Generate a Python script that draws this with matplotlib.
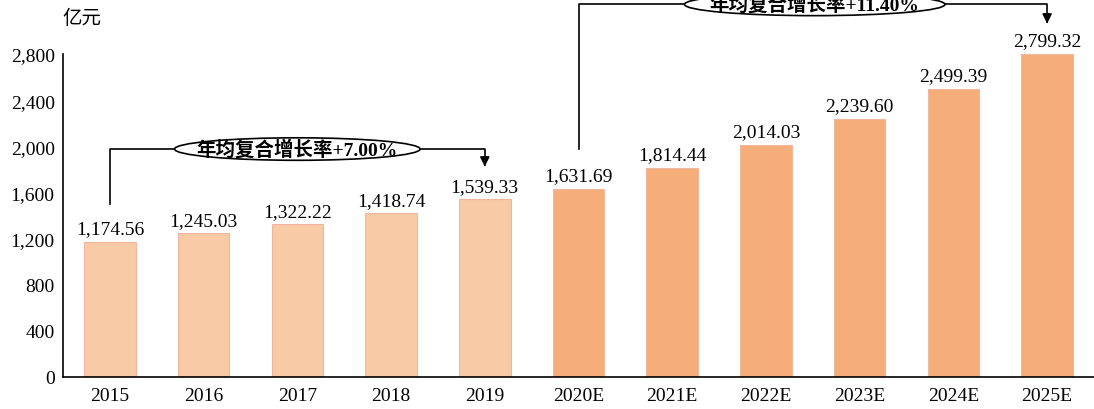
import matplotlib.pyplot as plt
from matplotlib.patches import Ellipse

years = ['2015', '2016', '2017', '2018', '2019', '2020E', '2021E', '2022E', '2023E', '2024E', '2025E']
values = [1174.56, 1245.03, 1322.22, 1418.74, 1539.33, 1631.69, 1814.44, 2014.03, 2239.60, 2499.39, 2799.32]
is_forecast = [y.endswith('E') for y in years]
yticks = [0, 400, 800, 1200, 1600, 2000, 2400, 2800]
cagr_labels = ['年均复合增长率+7.00%', '年均复合增长率+11.40%']

serif = ['Liberation Serif', 'Noto Sans CJK SC']
cjk = ['Noto Sans CJK SC', 'Liberation Serif']

fig = plt.figure(figsize=(10.94, 4.10), dpi=100)
ax = fig.add_axes([63 / 1094, 1 - 378 / 410, 1 - 63 / 1094, (378 - 55) / 410])

x = list(range(len(years)))
colors = ['#F9CAA6' if not f else '#F5AD79' for f in is_forecast]
ax.bar(x, values, width=0.55, color=colors, edgecolor='#EFB7A0', linewidth=0.8)

for xi, v in zip(x, values):
    ax.text(xi, v + 40, f'{v:,.2f}', ha='center', va='bottom', fontsize=14, family=serif)

ax.set_xlim(-0.5, len(years) - 0.5)
ax.set_ylim(0, 2800)
ax.set_yticks(yticks)
ax.set_yticklabels([f'{t:,}' for t in yticks], family=serif, fontsize=14)
ax.set_xticks(x)
ax.set_xticklabels(years, family=serif, fontsize=14)
ax.tick_params(axis='y', length=0, pad=6)
ax.tick_params(axis='x', length=0, pad=7)
for s in ['top', 'right']:
    ax.spines[s].set_visible(False)
for s in ['left', 'bottom']:
    ax.spines[s].set_linewidth(1.2)

fig.text(62 / 1094, 1 - 18 / 410, '亿元', family=cjk, fontsize=14, ha='left', va='center')


def bracket(x0, x1, y_start, y_top, y_end, label, xc, w):
    ax.plot([x0, x0, x1, x1], [y_start, y_top, y_top, y_end + 60],
            color='black', lw=1.2, clip_on=False, zorder=3)
    ax.annotate('', xy=(x1, y_end), xytext=(x1, y_end + 70),
                arrowprops=dict(arrowstyle='-|>', color='black', lw=1.2, mutation_scale=14),
                annotation_clip=False)
    ax.add_patch(Ellipse((xc, y_top), w, 195, facecolor='white', edgecolor='black',
                         lw=1.2, clip_on=False, zorder=4))
    ax.text(xc, y_top, label, ha='center', va='center', fontsize=14, fontweight='bold',
            family=serif, zorder=5, clip_on=False)


bracket(0, 4, 1500, 1976, 1800, cagr_labels[0], 2.0, 2.62)
bracket(5, 10, 1976, 3230, 3040, cagr_labels[1], 7.52, 2.78)

fig.savefig('out.png', dpi=100)
